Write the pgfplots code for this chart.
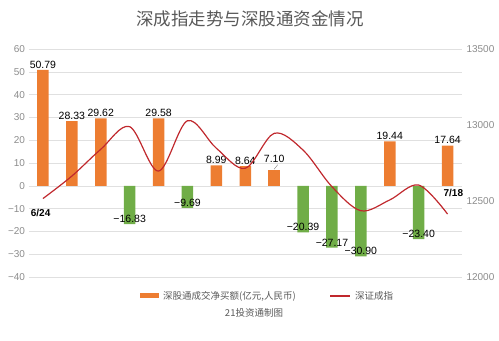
\documentclass[border=0pt]{standalone}
\usepackage{pgfplots}
\pgfplotsset{compat=1.18}
\usepackage{fontspec}
\setmainfont{Liberation Sans}
\newfontfamily\cjk{Noto Sans CJK SC}
\definecolor{barorange}{HTML}{ED7D31}
\definecolor{bargreen}{HTML}{70AD47}
\definecolor{linered}{HTML}{C0282D}
\definecolor{ticklab}{HTML}{8C8C8C}
\definecolor{txtgray}{HTML}{595959}
\definecolor{gridgray}{HTML}{E0E0E0}
\begin{document}
\begin{tikzpicture}
\path[use as bounding box] (0,0) rectangle (499bp,341bp);
% title
\node[text=txtgray, font=\cjk\fontsize{17.5bp}{20bp}\selectfont] at (250bp,322bp) {深成指走势与深股通资金情况};
\begin{axis}[
  at={(28.5bp,64bp)}, anchor=south west,
  scale only axis, width=433.5bp, height=228bp,
  xmin=-0.5, xmax=14.5, ymin=-40, ymax=60,
  axis line style={draw=none},
  ymajorgrids, grid style={gridgray, line width=0.6pt},
  ytick={-40,-30,-20,-10,0,10,20,30,40,50,60},
  yticklabels={−40,−30,−20,−10,0,10,20,30,40,50,60},
  yticklabel style={text=ticklab, font=\fontsize{10bp}{12bp}\selectfont},
  yticklabel pos=left,
  xtick=\empty,
  major tick length=0pt,
  clip=false,
  ybar, bar width=11.5bp,
  nodes near coords,
  point meta=explicit symbolic,
  every node near coord/.append style={font=\fontsize{10.5bp}{12bp}\selectfont, text=black, inner sep=1.5pt},
]
\addplot[fill=barorange, draw=none, bar shift=0pt] coordinates {
 (0,50.79) [50.79]
 (1,28.33) [28.33]
 (2,29.62) [29.62]
 (4,29.58) [29.58]
 (6,8.99) [8.99]
 (7,8.64) [8.64]
 (12,19.44) [19.44]
 (14,17.64) [17.64]
};
\addplot[fill=barorange, draw=none, bar shift=0pt, every node near coord/.append style={yshift=5bp}] coordinates {
 (8,7.10) [7.10]
};
\addplot[fill=bargreen, draw=none, bar shift=0pt] coordinates {
 (3,-16.83) [−16.83]
 (5,-9.69) [−9.69]
 (9,-20.39) [−20.39]
 (10,-27.17) [−27.17]
 (11,-30.90) [−30.90]
 (13,-23.40) [−23.40]
};
\draw[gray, line width=0.4pt] (axis cs:8,7.3) -- (axis cs:8.12,9.2);
\end{axis}
\begin{axis}[
  at={(28.5bp,64bp)}, anchor=south west,
  scale only axis, width=433.5bp, height=228bp,
  xmin=-0.5, xmax=14.5, ymin=12000, ymax=13500,
  axis line style={draw=none},
  scaled y ticks=false,
  ytick={12000,12500,13000,13500},
  yticklabels={12000,12500,13000,13500},
  yticklabel pos=right,
  yticklabel style={text=ticklab, font=\fontsize{10bp}{12bp}\selectfont, xshift=1bp},
  xtick=\empty,
  major tick length=0pt,
  clip=false,
]
\addplot[linered, line width=1.2pt, smooth, tension=0.55, mark=none] coordinates {
 (0,12516) (1,12664) (2,12840) (3,12989) (4,12697) (5,13028) (6,12847)
 (7,12715) (8,12945) (9,12835) (10,12594) (11,12436) (12,12507) (13,12605) (14,12414)
};
\node[font=\bfseries\fontsize{10bp}{12bp}\selectfont] at (axis cs:-0.08,12418) {6/24};
\node[font=\bfseries\fontsize{10bp}{12bp}\selectfont] at (axis cs:14.2,12555) {7/18};
\end{axis}
% legend
\fill[barorange] (140bp,42.5bp) rectangle (159bp,47.5bp);
\node[anchor=west, text=txtgray, font=\cjk\fontsize{9.5bp}{11bp}\selectfont, inner sep=0pt] at (163bp,45bp) {深股通成交净买额(亿元,人民币)};
\draw[linered, line width=1.2pt] (330bp,45bp) -- (350bp,45bp);
\node[anchor=west, text=txtgray, font=\cjk\fontsize{9.5bp}{11bp}\selectfont, inner sep=0pt] at (355bp,45bp) {深证成指};
\node[text=txtgray, font=\cjk\fontsize{9.5bp}{11bp}\selectfont] at (254bp,28bp) {21投资通制图};
\end{tikzpicture}
\end{document}
